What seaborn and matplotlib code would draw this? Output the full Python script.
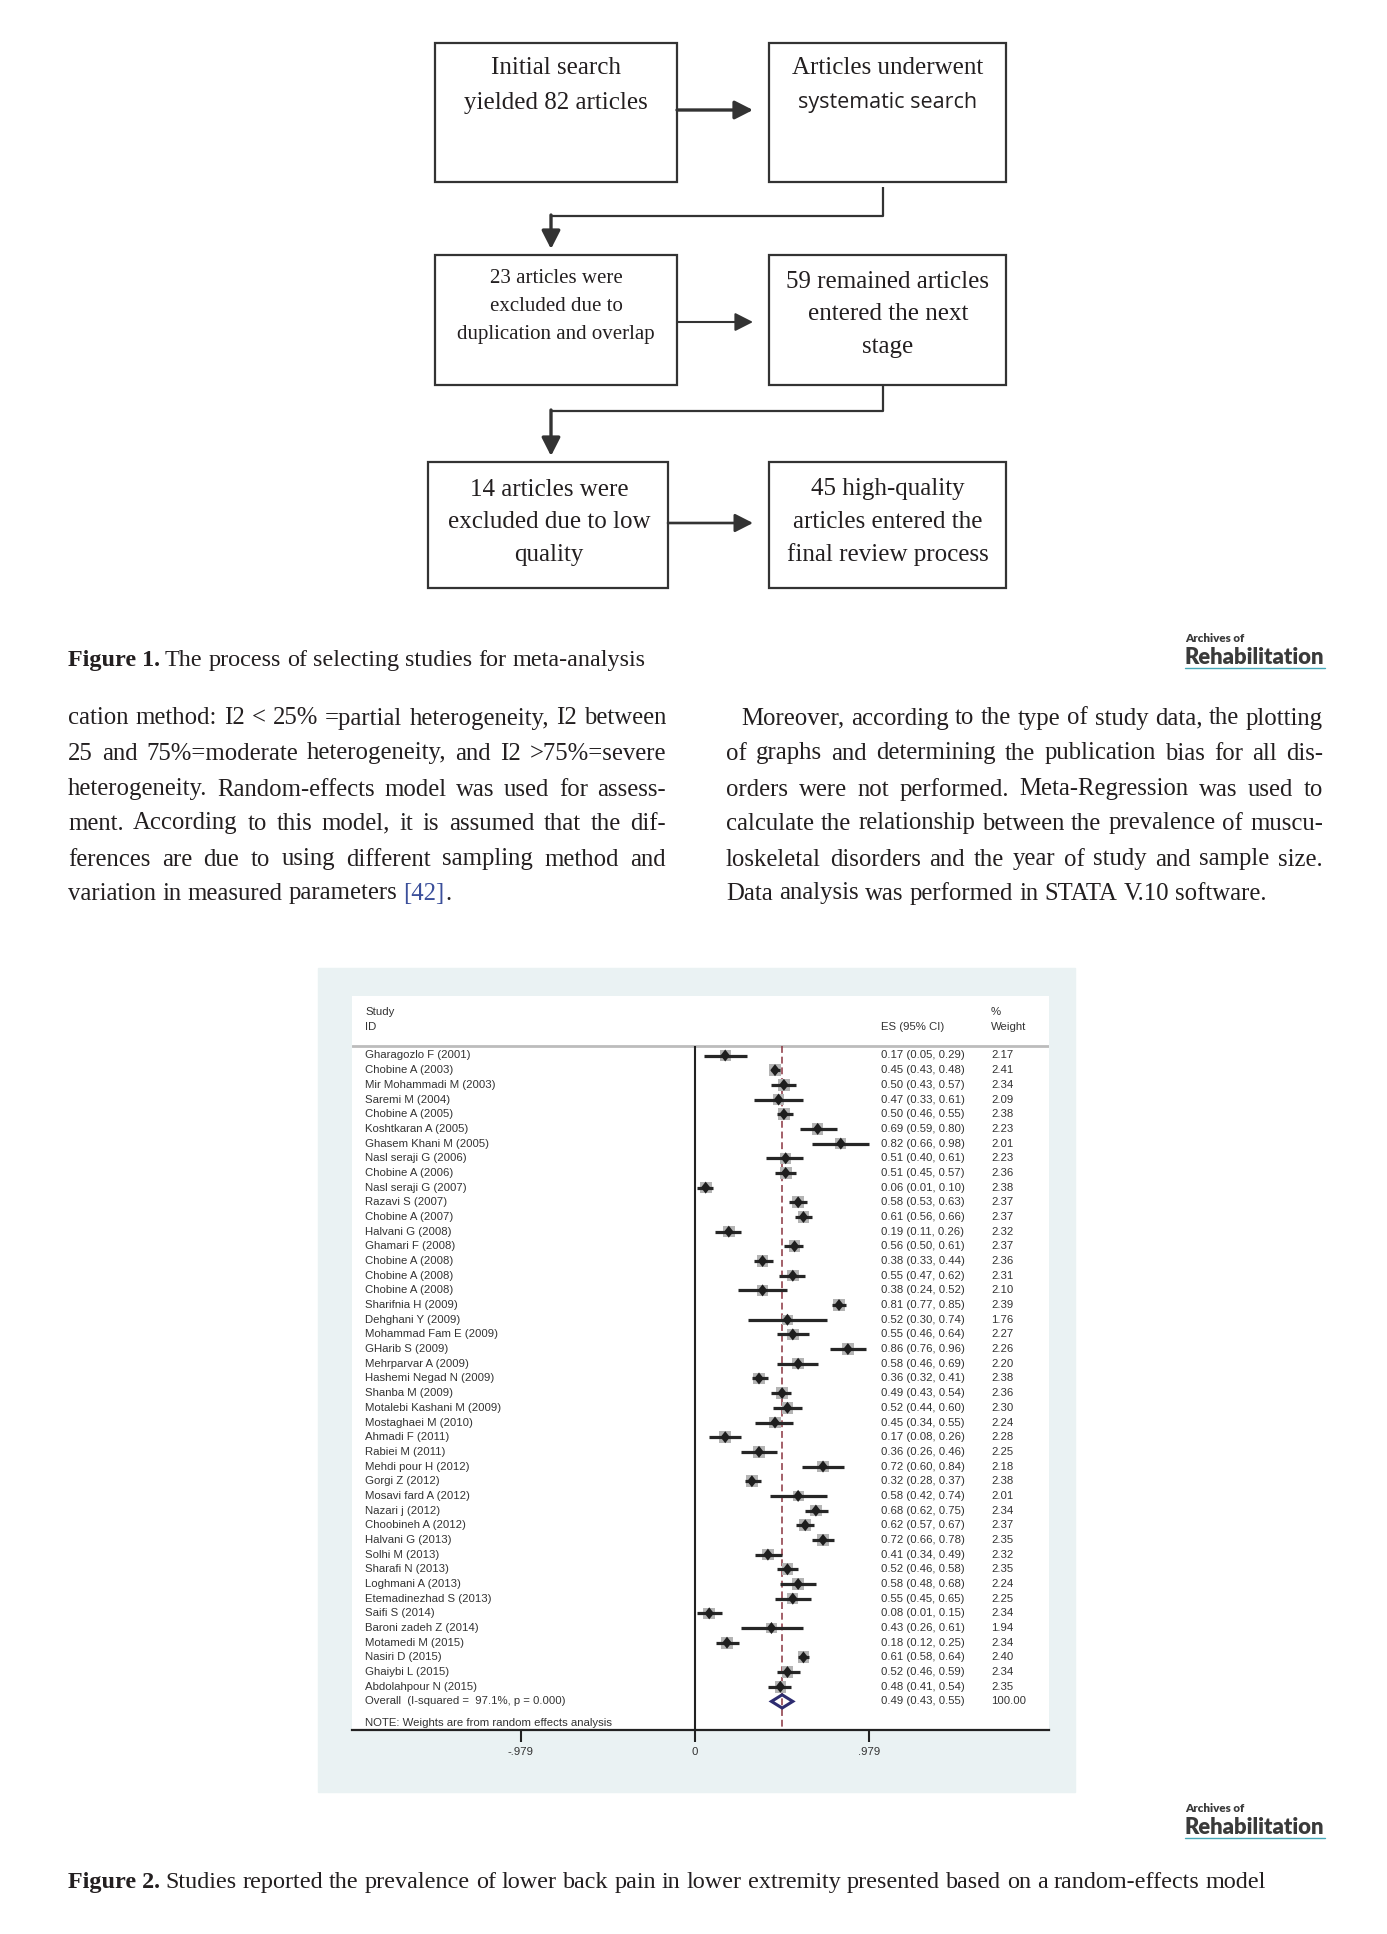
import numpy as np
import pandas as pd
import seaborn as sns
import matplotlib.pyplot as plt
from matplotlib.patches import Rectangle, Polygon

# forest plot values
studies = ["Gharagozlo F (2001)", "Chobine A (2003)", "Mir Mohammadi M (2003)", "Saremi M (2004)",
           "Chobine A (2005)", "Koshtkaran A (2005)", "Ghasem Khani M (2005)", "Nasl seraji G (2006)",
           "Chobine A (2006)", "Nasl seraji G (2007)", "Razavi S (2007)", "Chobine A (2007)",
           "Halvani G (2008)", "Ghamari F (2008)", "Chobine A (2008)", "Chobine A (2008)",
           "Chobine A (2008)", "Sharifnia H (2009)", "Dehghani Y (2009)", "Mohammad Fam E (2009)",
           "GHarib S (2009)", "Mehrparvar A (2009)", "Hashemi Negad N (2009)", "Shanba M (2009)",
           "Motalebi Kashani M (2009)", "Mostaghaei M (2010)", "Ahmadi F (2011)", "Rabiei M (2011)",
           "Mehdi pour H (2012)", "Gorgi Z (2012)", "Mosavi fard A (2012)", "Nazari j (2012)",
           "Choobineh A (2012)", "Halvani G (2013)", "Solhi M (2013)", "Sharafi N (2013)",
           "Loghmani A (2013)", "Etemadinezhad S (2013)", "Saifi S (2014)", "Baroni zadeh Z (2014)",
           "Motamedi M (2015)", "Nasiri D (2015)", "Ghaiybi L (2015)", "Abdolahpour N (2015)"]
es = [0.17, 0.45, 0.50, 0.47, 0.50, 0.69, 0.82, 0.51, 0.51, 0.06, 0.58, 0.61, 0.19, 0.56, 0.38,
      0.55, 0.38, 0.81, 0.52, 0.55, 0.86, 0.58, 0.36, 0.49, 0.52, 0.45, 0.17, 0.36, 0.72, 0.32,
      0.58, 0.68, 0.62, 0.72, 0.41, 0.52, 0.58, 0.55, 0.08, 0.43, 0.18, 0.61, 0.52, 0.48]
lo = [0.05, 0.43, 0.43, 0.33, 0.46, 0.59, 0.66, 0.40, 0.45, 0.01, 0.53, 0.56, 0.11, 0.50, 0.33,
      0.47, 0.24, 0.77, 0.30, 0.46, 0.76, 0.46, 0.32, 0.43, 0.44, 0.34, 0.08, 0.26, 0.60, 0.28,
      0.42, 0.62, 0.57, 0.66, 0.34, 0.46, 0.48, 0.45, 0.01, 0.26, 0.12, 0.58, 0.46, 0.41]
hi = [0.29, 0.48, 0.57, 0.61, 0.55, 0.80, 0.98, 0.61, 0.57, 0.10, 0.63, 0.66, 0.26, 0.61, 0.44,
      0.62, 0.52, 0.85, 0.74, 0.64, 0.96, 0.69, 0.41, 0.54, 0.60, 0.55, 0.26, 0.46, 0.84, 0.37,
      0.74, 0.75, 0.67, 0.78, 0.49, 0.58, 0.68, 0.65, 0.15, 0.61, 0.25, 0.64, 0.59, 0.54]
weight = [2.17, 2.41, 2.34, 2.09, 2.38, 2.23, 2.01, 2.23, 2.36, 2.38, 2.37, 2.37, 2.32, 2.37, 2.36,
          2.31, 2.10, 2.39, 1.76, 2.27, 2.26, 2.20, 2.38, 2.36, 2.30, 2.24, 2.28, 2.25, 2.18, 2.38,
          2.01, 2.34, 2.37, 2.35, 2.32, 2.35, 2.24, 2.25, 2.34, 1.94, 2.34, 2.40, 2.34, 2.35]
overall_es, overall_lo, overall_hi = 0.49, 0.43, 0.55
i_squared, p_value = 97.1, 0.000
ticks = [-0.979, 0, 0.979]
tick_labels = ["-.979", "0", ".979"]

left_col = ["cation method: I2 < 25% =partial heterogeneity, I2 between",
            "25 and 75%=moderate heterogeneity, and I2 >75%=severe",
            "heterogeneity. Random-effects model was used for assess-",
            "ment. According to this model, it is assumed that the dif-",
            "ferences are due to using different sampling method and"]
right_col = ["Moreover, according to the type of study data, the plotting",
             "of graphs and determining the publication bias for all dis-",
             "orders were not performed. Meta-Regression was used to",
             "calculate the relationship between the prevalence of muscu-",
             "loskeletal disorders and the year of study and sample size.",
             "Data analysis was performed in STATA V.10 software."]

df = pd.DataFrame({"study": studies, "es": es, "lo": lo, "hi": hi, "weight": weight})
df["row"] = np.arange(len(df))

sns.set_theme(style="white")
plt.rcParams['font.family'] = ['Liberation Serif', 'DejaVu Serif']
serif = 'Liberation Serif'
sans = 'Liberation Sans'
ink = '#231f20'
line_c = '#333333'
body_fs = 17.8
cap_fs = 17.4

fig = plt.figure(figsize=(13.87, 19.34), dpi=100)
page = fig.add_axes([0, 0, 1, 1])
page.set_xlim(0, 1387)
page.set_ylim(1934, 0)
page.axis('off')
renderer = fig.canvas.get_renderer()


def width_of(t):
    return t.get_window_extent(renderer).width


def place_words(words, x0, y, size, x1=None, color=ink, family=serif, weight='normal'):
    ts = [page.text(0, y, w, fontsize=size, family=family, color=color, fontweight=weight,
                    ha='left', va='center_baseline') for w in words]
    wd = [width_of(t) for t in ts]
    em = size * 100 / 72
    gap = em * 0.25
    if x1 is not None and len(ts) > 1:
        gap = max((x1 - x0 - sum(wd)) / (len(ts) - 1), em * 0.12)
    x = x0
    for t, w in zip(ts, wd):
        t.set_x(x)
        x += w + gap
    return x - gap


# ---- Figure 1: flow chart ----
def box(x0, y0, x1, y1):
    page.add_patch(Rectangle((x0, y0), x1 - x0, y1 - y0, fill=False, ec=line_c, lw=1.6))


def arrow(x0, y0, x1, y1, lw):
    page.annotate('', xy=(x1, y1), xytext=(x0, y0),
                  arrowprops=dict(arrowstyle='-|>,head_length=0.55,head_width=0.28',
                                  color=line_c, lw=lw, shrinkA=0, shrinkB=0, mutation_scale=20))


box(435, 43, 677, 182)
box(769, 43, 1006, 182)
box(435, 255, 677, 385)
box(769, 255, 1006, 385)
box(428, 462, 668, 588)
box(769, 462, 1006, 588)

arrow(677, 110, 753, 110, 2.4)
arrow(677, 322, 753, 322, 1.5)
arrow(668, 523, 753, 523, 1.9)

page.plot([883, 883, 551], [187, 216, 216], color=line_c, lw=1.6, solid_capstyle='butt')
arrow(551, 215, 551, 249, 2.4)
page.plot([883, 883, 551], [385, 411, 411], color=line_c, lw=1.6, solid_capstyle='butt')
arrow(551, 410, 551, 456, 2.4)

flow = [
    (556, 65, "Initial search", 18, serif), (556, 100, "yielded 82 articles", 18, serif),
    (888, 65, "Articles underwent", 18, serif), (888, 100, "systematic search", 15.5, 'Open Sans'),
    (556, 276, "23 articles were", 15, serif), (556, 304, "excluded due to", 15, serif),
    (556, 332, "duplication and overlap", 15, serif),
    (888, 279, "59 remained articles", 18, serif), (888, 312, "entered the next", 18, serif),
    (888, 345, "stage", 18, serif),
    (549, 487, "14 articles were", 18, serif), (549, 519, "excluded due to low", 18, serif),
    (549, 552, "quality", 18, serif),
    (888, 487, "45 high-quality", 18, serif), (888, 519, "articles entered the", 18, serif),
    (888, 552, "final review process", 18, serif),
]
for x, y, s, fs, fam in flow:
    page.text(x, y, s, fontsize=fs, family=fam, color=ink, ha='center', va='center_baseline')


# ---- captions and logos ----
def caption(y, label, rest):
    end = place_words([label], 68, y, cap_fs, weight='bold')
    place_words(rest.split(), end + 5, y, cap_fs)


def logo(y):
    a = page.text(1185, y, "Archives of", family='Lato', fontweight='heavy', fontsize=7,
                  color='#3a3a3a', ha='left', va='center')
    a.set_fontsize(7 * 60 / width_of(a))
    r = page.text(1185, y + 18, "Rehabilitation", family='Lato', fontweight='heavy', fontsize=14,
                  color='#3a3a3a', ha='left', va='center')
    r.set_fontsize(14 * 140 / width_of(r))
    page.plot([1185, 1325], [y + 29, y + 29], color='#45a8b8', lw=1.0)


caption(658, "Figure 1.", "The process of selecting studies for meta-analysis")
logo(639)

# ---- body text (two justified columns) ----
line_y = [716, 751, 787, 821, 857, 891]
for y, line in zip(line_y, left_col):
    place_words(line.split(), 68, y, body_fs, x1=666)
end = place_words("variation in measured parameters".split(), 68, line_y[5], body_fs)
end = place_words(["[42]"], end + 6, line_y[5], body_fs, color='#3b4f9a')
place_words(["."], end + 1, line_y[5], body_fs)

for i, (y, line) in enumerate(zip(line_y, right_col)):
    x0 = 741 if i == 0 else 726
    place_words(line.split(), x0, y, body_fs, x1=None if i == 5 else 1323)

# ---- Figure 2: forest plot ----
page.add_patch(Rectangle((318, 968), 757, 824, color='#eaf2f3', zorder=0))

fx0, fx1, fy0, fy1 = 352, 1049, 996, 1729.5
px_unit, x_zero = 177.8, 695
row0, row_h = 1055.5, 14.68
ax = fig.add_axes([fx0 / 1387, 1 - fy1 / 1934, (fx1 - fx0) / 1387, (fy1 - fy0) / 1934])
ax.set_facecolor('white')
ax.set_xlim((fx0 - x_zero) / px_unit, (fx1 - x_zero) / px_unit)
y_bottom = (fy1 - row0) / row_h
ax.set_ylim(y_bottom, (fy0 - row0) / row_h)

rule_y = (1045.5 - row0) / row_h
ax.axhline(rule_y, color='#bcbcbc', lw=2.0)
ax.vlines(0, rule_y, y_bottom, color='#222222', lw=1.5)
ax.vlines(overall_es, rule_y, y_bottom, color='#8a3440', lw=1.1, linestyles=(0, (4.5, 2.5)))

sns.scatterplot(data=df, x="es", y="row", size="weight", sizes=(0, 75), size_norm=(0, 2.5),
                marker='s', color='#b4b4b4', edgecolor='none', legend=False, ax=ax, zorder=2)
ax.hlines(df["row"], df["lo"], df["hi"], color='#262626', lw=2.3, zorder=3)
sns.scatterplot(data=df, x="es", y="row", marker=[(0, 1), (0.78, 0), (0, -1), (-0.78, 0)], s=75,
                color='#1e1e1e', edgecolor='none', legend=False, ax=ax, zorder=4)

n = len(df)
ax.add_patch(Polygon([(overall_lo, n), (overall_es, n - 0.45), (overall_hi, n), (overall_es, n + 0.45)],
                     closed=True, fill=False, ec='#2d2c70', lw=2.2, zorder=5))

lab_x = (365 - x_zero) / px_unit
es_x = (881 - x_zero) / px_unit
w_x = (991 - x_zero) / px_unit
tk = dict(fontsize=8.2, family=sans, color='#333333', va='center', ha='left')
ax.text(lab_x, (1012 - row0) / row_h, "Study", **tk)
ax.text(lab_x, (1027 - row0) / row_h, "ID", **tk)
ax.text(es_x, (1027 - row0) / row_h, "ES (95% CI)", **tk)
ax.text(w_x, (1012 - row0) / row_h, "%", **tk)
ax.text(w_x, (1027 - row0) / row_h, "Weight", **tk)
for r in df.itertuples():
    ax.text(lab_x, r.row, r.study, **tk)
    ax.text(es_x, r.row, f"{r.es:.2f} ({r.lo:.2f}, {r.hi:.2f})", **tk)
    ax.text(w_x, r.row, f"{r.weight:.2f}", **tk)
ax.text(lab_x, n, f"Overall  (I-squared =  {i_squared:.1f}%, p = {p_value:.3f})", **tk)
ax.text(es_x, n, f"{overall_es:.2f} ({overall_lo:.2f}, {overall_hi:.2f})", **tk)
ax.text(w_x, n, "100.00", **tk)
ax.text(lab_x, (1723 - row0) / row_h, "NOTE: Weights are from random effects analysis", **tk)

sns.despine(ax=ax, left=True)
ax.spines['bottom'].set_color('#222222')
ax.spines['bottom'].set_linewidth(1.6)
ax.set_yticks([])
ax.set_xticks(ticks)
ax.set_xticklabels(tick_labels, family=sans, fontsize=8.2, color='#333333')
ax.tick_params(axis='x', bottom=True, length=8.6, width=1.5, color='#222222', pad=4)
ax.set_xlabel('')
ax.set_ylabel('')
ax.grid(False)

caption(1880, "Figure 2.", "Studies reported the prevalence of lower back pain in lower extremity "
                           "presented based on a random-effects model")
logo(1809)

fig.savefig('out.png', dpi=100)
